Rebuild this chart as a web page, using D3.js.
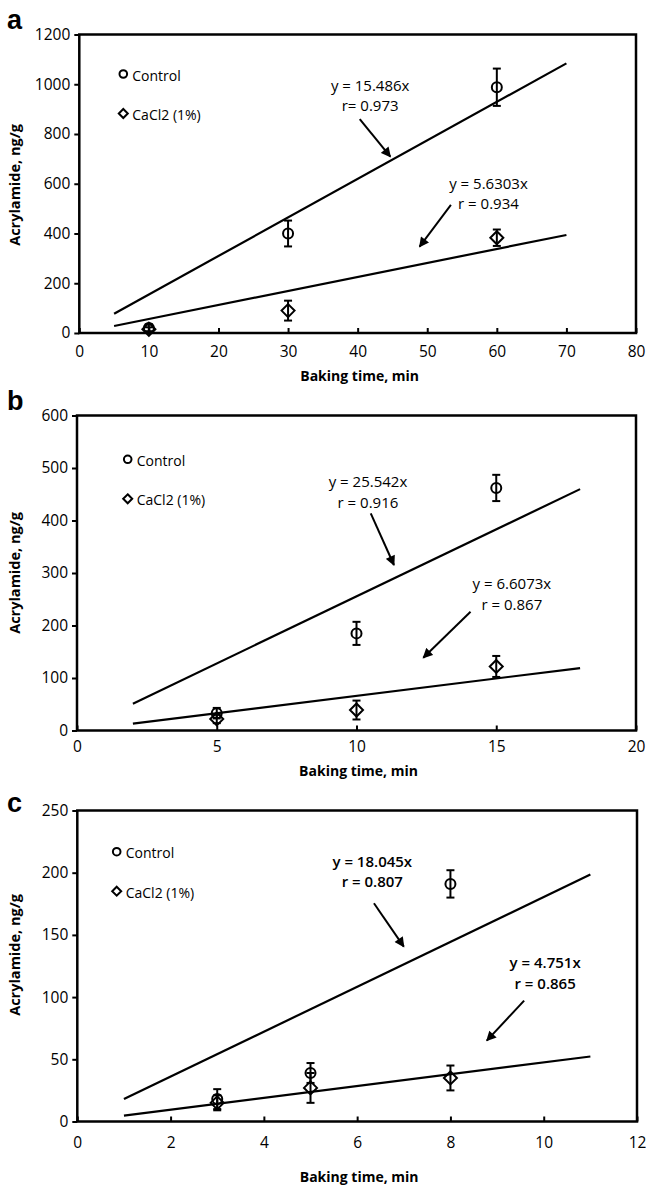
<!DOCTYPE html>
<html>
<head>
<meta charset="utf-8">
<script src="https://cdn.jsdelivr.net/npm/d3@7"></script>
<style>
  body { margin: 0; background: #fff; }
  svg { display: block; }
  text { font-family: "Open Sans", "DejaVu Sans", sans-serif; fill: #000; }
</style>
</head>
<body>
<svg id="chart" width="646" height="1186"></svg>
<script>
// ---- data ----
var panelNames = ["a", "b", "c"];
var seriesNames = ["Control", "CaCl2 (1%)"];

// panel a
var timeA = [10, 30, 60];
var controlA = [20, 400, 988];
var controlErrA = [15, 52, 75];
var cacl2A = [15, 90, 383];
var cacl2ErrA = [8, 40, 33];
var slopeA = [15.486, 5.6303];
var fitRangeA = [5, 70];
var eqA = [["y = 15.486x", "r= 0.973"], ["y = 5.6303x", "r = 0.934"]];
var xTicksA = [0, 10, 20, 30, 40, 50, 60, 70, 80];
var yTicksA = [0, 200, 400, 600, 800, 1000, 1200];

// panel b
var timeB = [5, 10, 15];
var controlB = [33, 185, 462];
var controlErrB = [10, 22, 25];
var cacl2B = [22, 39, 122];
var cacl2ErrB = [8, 18, 20];
var slopeB = [25.542, 6.6073];
var fitRangeB = [2, 18];
var eqB = [["y = 25.542x", "r = 0.916"], ["y = 6.6073x", "r = 0.867"]];
var xTicksB = [0, 5, 10, 15, 20];
var yTicksB = [0, 100, 200, 300, 400, 500, 600];

// panel c
var timeC = [3, 5, 8];
var controlC = [18, 39, 191];
var controlErrC = [8, 8, 11];
var cacl2C = [15, 27, 35];
var cacl2ErrC = [6, 12, 10];
var slopeC = [18.045, 4.751];
var fitRangeC = [1, 11];
var eqC = [["y = 18.045x", "r = 0.807"], ["y = 4.751x", "r = 0.865"]];
var xTicksC = [0, 2, 4, 6, 8, 10, 12];
var yTicksC = [0, 50, 100, 150, 200, 250];

// ---- layout (pixels) ; note anchors are in data units: [textX, textY, arrowX1, arrowY1, arrowX2, arrowY2]
var panels = [
  { name: panelNames[0], time: timeA, control: controlA, controlErr: controlErrA, cacl2: cacl2A, cacl2Err: cacl2ErrA,
    slope: slopeA, fit: fitRangeA, eq: eqA, xTicks: xTicksA, yTicks: yTicksA,
    left: 79.3, right: 636, top: 34.5, bottom: 333, letterY: 29, xLabelY: 24, xTitleY: 381, yTitleY: 185,
    legend: [44, 39.5], eqBold: false,
    notes: [[41.8, 973, 40.3, 860, 44.7, 709], [58.8, 579, 53.4, 515, 48.9, 347]] },
  { name: panelNames[1], time: timeB, control: controlB, controlErr: controlErrB, cacl2: cacl2B, cacl2Err: cacl2ErrB,
    slope: slopeB, fit: fitRangeB, eq: eqB, xTicks: xTicksB, yTicks: yTicksB,
    left: 77, right: 636, top: 415.5, bottom: 730.5, letterY: 410, xLabelY: 21, xTitleY: 776, yTitleY: 573,
    legend: [50.7, 43.8], eqBold: false,
    notes: [[10.41, 463.8, 10.51, 413.7, 11.34, 315.2], [15.56, 269.5, 14.08, 226.3, 12.39, 138.7]] },
  { name: panelNames[2], time: timeC, control: controlC, controlErr: controlErrC, cacl2: cacl2C, cacl2Err: cacl2ErrC,
    slope: slopeC, fit: fitRangeC, eq: eqC, xTicks: xTicksC, yTicks: yTicksC,
    left: 77.3, right: 637, top: 810.5, bottom: 1121.5, letterY: 812, xLabelY: 26, xTitleY: 1182, yTitleY: 955,
    legend: [39.4, 41.2], eqBold: true,
    notes: [[6.325, 204.9, 6.36, 175.4, 7.0, 140.6], [10.03, 123.2, 9.58, 97.2, 8.78, 65]] }
];

var svg = d3.select("#chart");

svg.append("rect").attr("width", 646).attr("height", 1186).attr("fill", "#fff");

svg.append("defs").append("marker")
    .attr("id", "arrow")
    .attr("viewBox", "0 0 10 10")
    .attr("refX", 9)
    .attr("refY", 5)
    .attr("markerWidth", 11)
    .attr("markerHeight", 10)
    .attr("markerUnits", "userSpaceOnUse")
    .attr("orient", "auto")
  .append("path")
    .attr("d", "M0,0L10,5L0,10Z")
    .attr("fill", "#000");

function diamond(cx, cy, r) {
  return "M" + cx + "," + (cy - r) + "L" + (cx + r) + "," + cy +
         "L" + cx + "," + (cy + r) + "L" + (cx - r) + "," + cy + "Z";
}

function drawPanel(p) {
  var x = d3.scaleLinear()
      .domain([p.xTicks[0], p.xTicks[p.xTicks.length - 1]])
      .range([p.left, p.right]);
  var y = d3.scaleLinear()
      .domain([p.yTicks[0], p.yTicks[p.yTicks.length - 1]])
      .range([p.bottom, p.top]);

  var g = svg.append("g").attr("class", "panel");

  // panel letter
  g.append("text")
      .attr("x", 7)
      .attr("y", p.letterY)
      .style("font-family", "'Liberation Sans', Arial, sans-serif")
      .style("font-weight", "bold")
      .style("font-size", "27px")
      .text(p.name);

  // y axis (ticks outside)
  var yAxis = g.append("g")
      .attr("transform", "translate(" + p.left + ",0)")
      .call(d3.axisLeft(y).tickValues(p.yTicks).tickFormat(d3.format("d"))
            .tickSize(5).tickSizeOuter(0).tickPadding(4));
  yAxis.select(".domain").remove();
  yAxis.selectAll("line").attr("stroke", "#000").attr("stroke-width", 2);
  yAxis.selectAll("text")
      .style("font-size", "15.5px")
      .style("font-weight", "500")
      .style("font-family", "'Open Sans', sans-serif")
      .attr("fill", "#000");

  // x axis (ticks inside)
  var xAxis = g.append("g")
      .attr("transform", "translate(0," + p.bottom + ")")
      .call(d3.axisBottom(x).tickValues(p.xTicks).tickFormat(d3.format("d"))
            .tickSize(-5).tickSizeOuter(0));
  xAxis.select(".domain").remove();
  xAxis.selectAll("line").attr("stroke", "#000").attr("stroke-width", 2);
  xAxis.selectAll("text")
      .attr("y", p.xLabelY)
      .attr("dy", null)
      .style("font-size", "15.5px")
      .style("font-weight", "500")
      .style("font-family", "'Open Sans', sans-serif")
      .attr("fill", "#000");

  // frame
  g.append("rect")
      .attr("x", p.left)
      .attr("y", p.top)
      .attr("width", p.right - p.left)
      .attr("height", p.bottom - p.top)
      .attr("fill", "none")
      .attr("stroke", "#000")
      .attr("stroke-width", 2.5);

  // axis titles
  g.append("text")
      .attr("x", (p.left + p.right) / 2 + 2)
      .attr("y", p.xTitleY)
      .attr("text-anchor", "middle")
      .style("font-weight", "bold")
      .style("font-size", "14px")
      .text("Baking time, min");

  g.append("text")
      .attr("transform", "translate(20," + p.yTitleY + ")rotate(-90)")
      .attr("text-anchor", "middle")
      .style("font-weight", "bold")
      .style("font-size", "14.5px")
      .text("Acrylamide, ng/g");

  // regression lines
  p.slope.forEach(function(k) {
    g.append("line")
        .attr("x1", x(p.fit[0])).attr("y1", y(k * p.fit[0]))
        .attr("x2", x(p.fit[1])).attr("y2", y(k * p.fit[1]))
        .attr("stroke", "#000")
        .attr("stroke-width", 2.2);
  });

  // error bars + markers
  var series = [
    { values: p.control, errs: p.controlErr, shape: "circle" },
    { values: p.cacl2, errs: p.cacl2Err, shape: "diamond" }
  ];
  series.forEach(function(s) {
    var pts = g.append("g").selectAll("g")
        .data(p.time.map(function(t, i) { return { t: t, v: s.values[i], e: s.errs[i] }; }))
      .enter().append("g");

    pts.append("line")
        .attr("x1", function(d) { return x(d.t); })
        .attr("x2", function(d) { return x(d.t); })
        .attr("y1", function(d) { return y(d.v + d.e); })
        .attr("y2", function(d) { return y(d.v - d.e); })
        .attr("stroke", "#000").attr("stroke-width", 2);
    [1, -1].forEach(function(sign) {
      pts.append("line")
          .attr("x1", function(d) { return x(d.t) - 4; })
          .attr("x2", function(d) { return x(d.t) + 4; })
          .attr("y1", function(d) { return y(d.v + sign * d.e); })
          .attr("y2", function(d) { return y(d.v + sign * d.e); })
          .attr("stroke", "#000").attr("stroke-width", 2);
    });

    if (s.shape == "circle") {
      pts.append("circle")
          .attr("cx", function(d) { return x(d.t); })
          .attr("cy", function(d) { return y(d.v); })
          .attr("r", 5)
          .attr("fill", "none")
          .attr("stroke", "#000").attr("stroke-width", 2);
    } else {
      pts.append("path")
          .attr("d", function(d) { return diamond(x(d.t), y(d.v), 6.5); })
          .attr("fill", "none")
          .attr("stroke", "#000").attr("stroke-width", 2);
    }
  });

  // legend
  var lx = p.left + p.legend[0], ly = p.top + p.legend[1];
  g.append("circle")
      .attr("cx", lx).attr("cy", ly).attr("r", 3.8)
      .attr("fill", "none").attr("stroke", "#000").attr("stroke-width", 2);
  g.append("path")
      .attr("d", diamond(lx, ly + 39.5, 4.5))
      .attr("fill", "none").attr("stroke", "#000").attr("stroke-width", 2);
  g.selectAll(".legtext")
      .data(seriesNames)
    .enter().append("text")
      .attr("class", "legtext")
      .attr("x", lx + 9)
      .attr("y", function(d, i) { return ly + 6.5 + i * 39.5; })
      .style("font-size", "14px")
      .style("font-weight", "500")
      .text(function(d) { return d; });

  // equations and arrows
  p.notes.forEach(function(n, i) {
    var t = g.append("text")
        .attr("text-anchor", "middle")
        .style("font-size", "15px")
        .style("font-weight", p.eqBold ? "600" : "500");
    t.append("tspan")
        .attr("x", x(n[0])).attr("y", y(n[1]))
        .text(p.eq[i][0]);
    t.append("tspan")
        .attr("x", x(n[0])).attr("y", y(n[1]) + 20.5)
        .text(p.eq[i][1]);

    g.append("line")
        .attr("x1", x(n[2])).attr("y1", y(n[3]))
        .attr("x2", x(n[4])).attr("y2", y(n[5]))
        .attr("stroke", "#000")
        .attr("stroke-width", 2)
        .attr("marker-end", "url(#arrow)");
  });
}

panels.forEach(drawPanel);
</script>
</body>
</html>
